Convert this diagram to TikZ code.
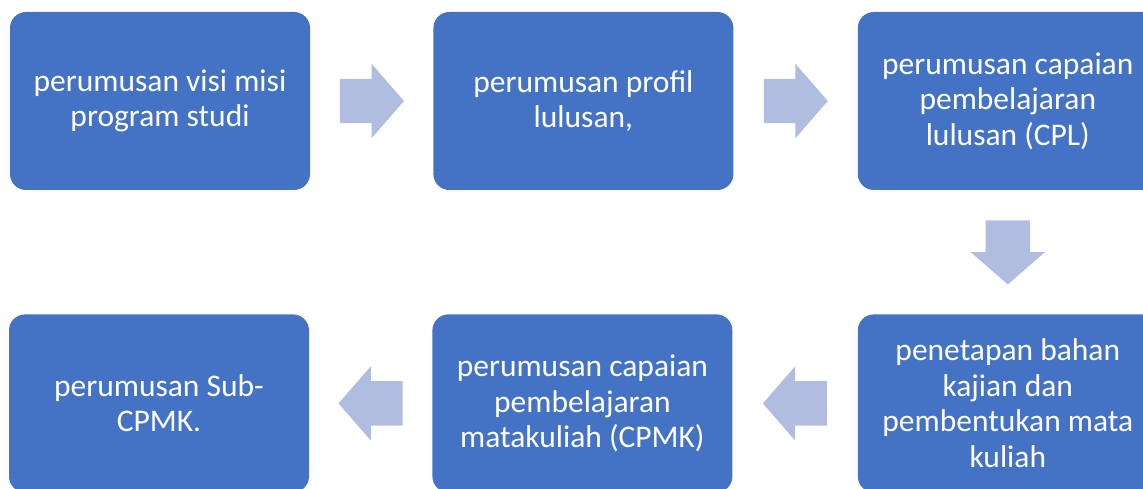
\documentclass[tikz,border=0pt]{standalone}
\usepackage{fontspec}
\setmainfont{Carlito}
\usetikzlibrary{shapes.arrows, positioning, calc}
\definecolor{stepblue}{HTML}{4472C4}
\definecolor{flowblue}{HTML}{B0BDE0}

\begin{document}
\begin{tikzpicture}[
        x=1pt, y=1pt,
        node distance=123pt,
        box/.style={rectangle, fill=stepblue, rounded corners=16pt, minimum width=300pt, minimum height=178pt, inner sep=0pt, align=center, text=white, font=\fontsize{31.5}{35.5}\selectfont},
        flow/.style={single arrow, fill=flowblue, minimum height=64pt, minimum width=74pt, single arrow head extend=15pt, single arrow tip angle=98, inner xsep=0pt, inner ysep=22pt, anchor=tail},
        flowdown/.style={flow, shape border rotate=270, inner xsep=22pt, inner ysep=0pt}
    ]
        \useasboundingbox (0,0) rectangle (1143,488);
        \node[box] (visi) at (160,387) {perumusan visi misi\\program studi};
        \node[box, right=of visi] (profil) {perumusan profil\\lulusan,};
        \node[box, right=124pt of profil] (cpl) {perumusan capaian\\pembelajaran\\lulusan (CPL)};
        \node[box, below=124pt of cpl] (bahan) {penetapan bahan\\kajian dan\\pembentukan mata\\kuliah};
        \node[box, left=125pt of bahan] (cpmk) {perumusan capaian\\pembelajaran\\matakuliah (CPMK)};
        \node[box, left=of cpmk] (sub) {perumusan Sub-\\CPMK.};
        
        \node[flow] (a1) at ($(visi.east)!0.5!(profil.west)+(-32,0)$) {};
        \node[flow] (a2) at ($(profil.east)!0.5!(cpl.west)+(-32,0)$) {};
        \node[flowdown] (a3) at ($(cpl.south)!0.5!(bahan.north)+(0,32)$) {};
        \node[flow, shape border rotate=180] (a4) at ($(bahan.west)!0.5!(cpmk.east)+(32,0)$) {};
        \node[flow, shape border rotate=180] (a5) at ($(cpmk.west)!0.5!(sub.east)+(32,0)$) {};
    \end{tikzpicture}
\end{document}
